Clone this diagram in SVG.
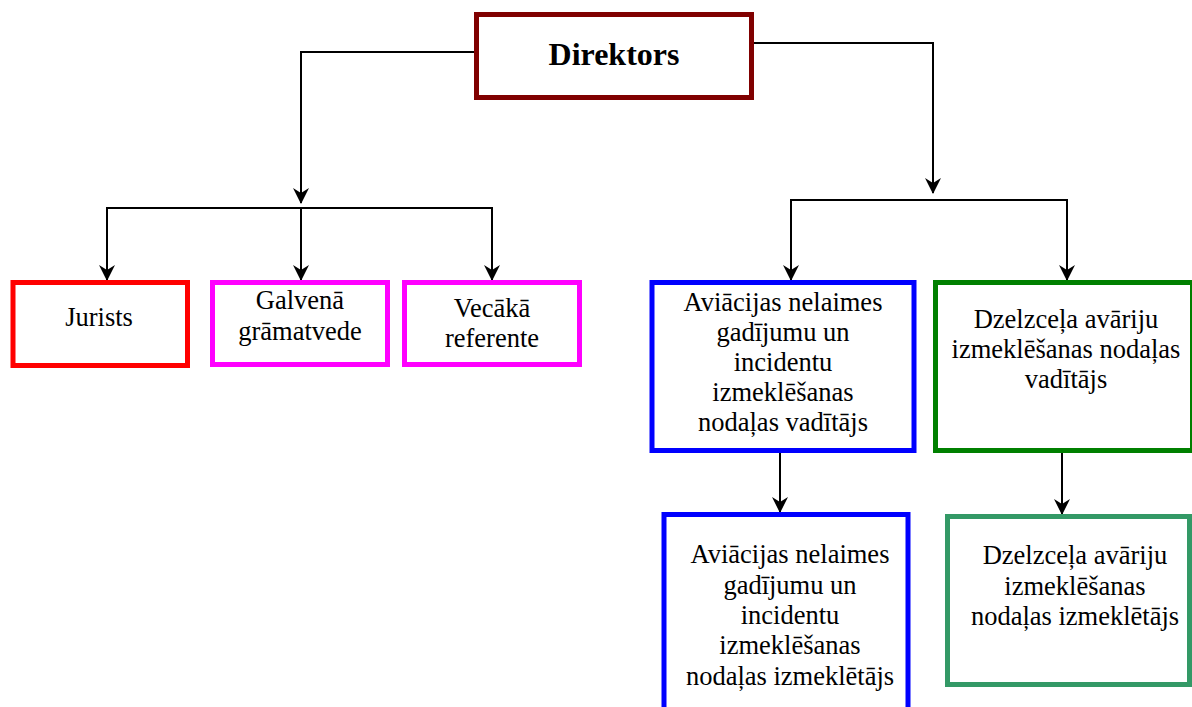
<svg xmlns="http://www.w3.org/2000/svg" width="1192" height="707" viewBox="0 0 1192 707">
<defs>
<marker id="arr" viewBox="0 0 16 16" refX="15" refY="8" markerWidth="16" markerHeight="16" markerUnits="userSpaceOnUse" orient="auto-start-reverse">
<path d="M16,8 L0,0 L5,8 L0,16 Z" fill="#000"/>
</marker>
<style>
.box{fill:#fff;stroke-width:5}
.t{font-family:"Liberation Serif","Times New Roman",serif;font-size:26.5px;fill:#000;text-anchor:middle}
.b{font-weight:bold;font-size:32px}
.c{fill:none;stroke:#000;stroke-width:2}
</style>
</defs>
<rect width="1192" height="707" fill="#fff"/>
<g id="connectors">
<path class="c" d="M474,52 H301 V203" marker-end="url(#arr)"/>
<path class="c" d="M107,280 V208 H492 V280" marker-start="url(#arr)" marker-end="url(#arr)"/>
<path class="c" d="M301,208 V280" marker-end="url(#arr)"/>
<path class="c" d="M754,43 H933 V193" marker-end="url(#arr)"/>
<path class="c" d="M791,280 V200 H1067 V280" marker-start="url(#arr)" marker-end="url(#arr)"/>
<path class="c" d="M780,453 V512" marker-end="url(#arr)"/>
<path class="c" d="M1062,453 V514" marker-end="url(#arr)"/>
</g>
<g id="direktors">
<rect class="box" x="476.5" y="14.5" width="275" height="83" stroke="#800000"/>
<text class="t b" x="614" y="65">Direktors</text>
</g>
<g id="jurists">
<rect class="box" x="13" y="282.5" width="174.5" height="83" stroke="#ff0000"/>
<text class="t" x="99" y="326">Jurists</text>
</g>
<g id="galvena">
<rect class="box" x="212.5" y="282.5" width="175" height="82" stroke="#ff00ff"/>
<text class="t" x="300" y="309">Galvenā</text>
<text class="t" x="300" y="340">grāmatvede</text>
</g>
<g id="vecaka">
<rect class="box" x="404.5" y="282.5" width="175" height="82" stroke="#ff00ff"/>
<text class="t" x="492" y="317">Vecākā</text>
<text class="t" x="492" y="347">referente</text>
</g>
<g id="avia-vad">
<rect class="box" x="652" y="282.5" width="262" height="168" stroke="#0000ff"/>
<text class="t" x="783" y="311">Aviācijas nelaimes</text>
<text class="t" x="783" y="341">gadījumu un</text>
<text class="t" x="783" y="371">incidentu</text>
<text class="t" x="783" y="401">izmeklēšanas</text>
<text class="t" x="783" y="431">nodaļas vadītājs</text>
</g>
<g id="dzelz-vad">
<rect class="box" x="935.5" y="282.5" width="257" height="168" stroke="#008000"/>
<text class="t" x="1066" y="328">Dzelzceļa avāriju</text>
<text class="t" x="1066" y="358">izmeklēšanas nodaļas</text>
<text class="t" x="1066" y="388">vadītājs</text>
</g>
<g id="avia-izm">
<rect class="box" x="664" y="514.5" width="244" height="196" stroke="#0000ff"/>
<text class="t" x="790" y="563">Aviācijas nelaimes</text>
<text class="t" x="790" y="594">gadījumu un</text>
<text class="t" x="790" y="624">incidentu</text>
<text class="t" x="790" y="654">izmeklēšanas</text>
<text class="t" x="790" y="685">nodaļas izmeklētājs</text>
</g>
<g id="dzelz-izm">
<rect class="box" x="947.5" y="516.5" width="242" height="168" stroke="#339966"/>
<text class="t" x="1075" y="564">Dzelzceļa avāriju</text>
<text class="t" x="1075" y="595">izmeklēšanas</text>
<text class="t" x="1075" y="625">nodaļas izmeklētājs</text>
</g>
</svg>
